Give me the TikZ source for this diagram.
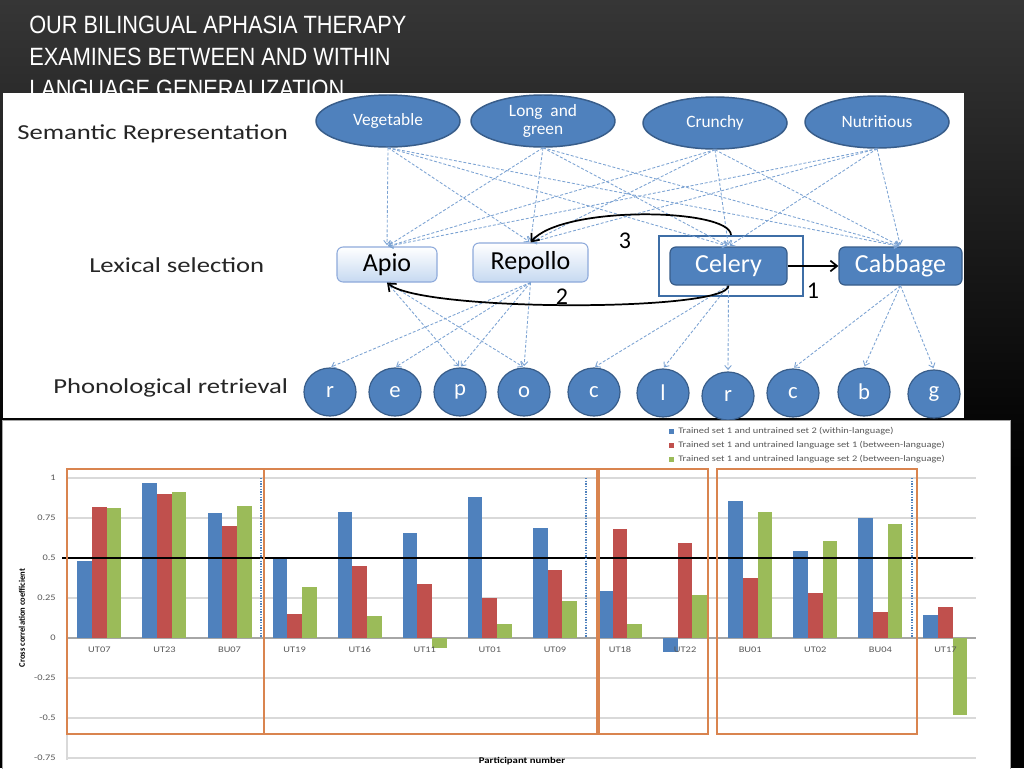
\documentclass[tikz,border=0pt]{standalone}
\usepackage{fontspec}
\setmainfont{Carlito}
\newfontfamily\titlefont[FakeStretch=0.87]{Liberation Sans}
\newfontfamily\lblfont[FakeStretch=1.25]{Carlito}
\newfontfamily\chfont[FakeStretch=1.22]{Carlito}
\usetikzlibrary{arrows.meta,shapes.geometric}
\definecolor{xblue}{HTML}{4F81BD}
\definecolor{xred}{HTML}{C0504D}
\definecolor{xgreen}{HTML}{9BBB59}
\definecolor{xborder}{HTML}{385D8A}
\definecolor{dashblue}{HTML}{7CA3D3}
\definecolor{lightbox}{HTML}{C6D9F1}
\definecolor{lightborder}{HTML}{8EAADB}
\definecolor{frameblue}{HTML}{3E6EA6}
\definecolor{orangeframe}{HTML}{D9844F}
\definecolor{gridgray}{HTML}{D9D9D9}
\definecolor{axgray}{HTML}{A6A6A6}
\definecolor{txtgray}{HTML}{595959}
\definecolor{bgtop}{HTML}{363636}
\tikzset{
  titlestyle/.style={font=\titlefont\fontsize{18.75pt}{20pt}\selectfont, text=white, inner sep=0pt, anchor=base west},
  lbl/.style={font=\lblfont\fontsize{16pt}{18pt}\selectfont, text=black!85, inner sep=0pt, anchor=base west},
  sem/.style={ellipse, fill=xblue, draw=xborder, line width=1.1pt, text=white, align=center,
    font=\fontsize{13pt}{13.5pt}\selectfont, minimum width=108pt, minimum height=39pt, inner sep=0pt},
  lexl/.style={rectangle, rounded corners=4.5pt, draw=lightborder, line width=0.8pt, top color=white,
    bottom color=lightbox, text=black, font=\fontsize{19.5pt}{20pt}\selectfont, inner sep=0pt},
  lexd/.style={rectangle, rounded corners=4.5pt, draw=xborder, line width=0.9pt, fill=xblue,
    text=white, font=\fontsize{19.5pt}{20pt}\selectfont, inner sep=0pt},
  pho/.style={ellipse, fill=xblue, draw=xborder, line width=0.9pt, text=white,
    font=\fontsize{17pt}{17pt}\selectfont, minimum width=39pt, minimum height=36pt, inner sep=0pt},
  dl/.style={draw=dashblue, line width=0.65pt, dash pattern=on 2.2pt off 1.4pt,
    -{Straight Barb[length=3pt,width=5pt]}, shorten >=1pt},
  blk/.style={draw=black, line width=1.3pt, -{Straight Barb[length=5pt,width=8pt]}},
  num/.style={font=\fontsize{18pt}{19pt}\selectfont, text=black, inner sep=0pt},
  ch/.style={font=\chfont\fontsize{6.4pt}{7pt}\selectfont, text=txtgray, inner sep=0pt},
  grid/.style={draw=gridgray, line width=0.8pt},
  frm/.style={draw=orangeframe, line width=0.9pt},
  dotl/.style={draw=xblue, line width=0.9pt, dash pattern=on 1pt off 1pt}
}
\begin{document}
\begin{tikzpicture}[x=0.75pt, y=-0.75pt]
\useasboundingbox (0,0) rectangle (1024,768);
% background
\fill[black] (0,0) rectangle (1024,768);
\shade[top color=bgtop, bottom color=black] (0,0) rectangle (1024,470);
% title
\node[titlestyle] (t1) at (29,33) {OUR BILINGUAL APHASIA THERAPY};
\node[titlestyle] (t2) at (29,65) {EXAMINES BETWEEN AND WITHIN};
\node[titlestyle] (t3) at (29,97) {LANGUAGE GENERALIZATION};
% upper panel
\fill[white] (3,93) rectangle (964,418);
\node[lbl] (lsem) at (17,139) {Semantic Representation};
\node[lbl] (llex) at (89,272) {Lexical selection};
\node[lbl] (lpho) at (53,393) {Phonological retrieval};
% semantic ovals
\node[sem] (veg) at (388,121) {Vegetable};
\node[sem] (lag) at (543,121) {Long~~and\\green};
\node[sem] (cru) at (715,123) {Crunchy};
\node[sem] (nut) at (877,122) {Nutritious};
% lexical
\node[lexl, minimum width=75pt, minimum height=26.25pt] (apio) at (387,264.5) {Apio};
\node[lexl, minimum width=86.25pt, minimum height=29.25pt] (repollo) at (530.5,262.5) {Repollo};
\node[draw=frameblue, line width=1.5pt, minimum width=108pt, minimum height=45pt, inner sep=0pt] (celframe) at (731,266) {};
\node[lexd, minimum width=87.75pt, minimum height=28.5pt] (celery) at (728.5,266) {Celery};
\node[lexd, minimum width=92.25pt, minimum height=28.5pt] (cabbage) at (900.5,266) {Cabbage};
% phonological
\node[pho] (r1) at (330,392) {r};
\node[pho] (e) at (395,392) {e};
\node[pho] (p) at (460,392) {p};
\node[pho] (o) at (524,392) {o};
\node[pho] (c1) at (594,392) {c};
\node[pho] (l) at (663,393) {l};
\node[pho] (r2) at (728,396) {r};
\node[pho] (c2) at (793,393) {c};
\node[pho] (b) at (864,392) {b};
\node[pho] (g) at (934,394) {g};
% dashed connectors
\foreach \s in {veg,lag,cru,nut}
  \foreach \t in {apio,repollo,celery,cabbage}
    \draw[dl] (\s.south) -- (\t.north);
\foreach \t in {p,o} \draw[dl] (apio.south) -- (\t.north);
\foreach \t in {r1,e,p,o} \draw[dl] (repollo.south) -- (\t.north);
\foreach \t in {c1,l,r2} \draw[dl] (celery.south) -- (\t.north);
\foreach \t in {c2,b,g} \draw[dl] (cabbage.south) -- (\t.north);
% black arrows
\draw[blk] (celery.east) -- (cabbage.west);
\draw[blk] (celframe.north) .. controls (730,208) and (562,205) .. (repollo.north);
\draw[blk] (celery.south) .. controls (729,312) and (420,312) .. (apio.south);
\node[num] (n1) at (813,291) {1};
\node[num] (n2) at (562,297) {2};
\node[num] (n3) at (625,241) {3};
% lower panel
\draw[fill=white, draw=axgray] (2,420) rectangle (1010,775);
\foreach \v in {1,0.75,0.5,0.25,-0.25,-0.5,-0.75}
  \draw[grid] (67,{638-160*\v}) -- (976,{638-160*\v});
\draw[grid] (67,478) -- (67,760);
\draw[draw=axgray, line width=0.8pt] (67,638) -- (976,638);
\foreach \v/\t in {1/1,0.75/0.75,0.5/0.5,0.25/0.25,0/0,-0.25/-0.25,-0.5/-0.5,-0.75/-0.75}
  \node[ch, anchor=east] (tick\t) at (56,{638-160*\v}) {\t};
% bars
\foreach \i/\a/\b/\c in {0/0.483/0.819/0.815, 1/0.967/0.902/0.913, 2/0.781/0.698/0.823,
  3/0.508/0.148/0.321, 4/0.788/0.448/0.138, 5/0.656/0.338/-0.065, 6/0.883/0.248/0.088,
  7/0.686/0.425/0.23, 8/0.296/0.68/0.085, 9/-0.085/0.595/0.27, 10/0.856/0.373/0.788,
  11/0.546/0.283/0.608, 12/0.748/0.165/0.715, 13/0.144/0.196/-0.48}{
  \pgfmathsetmacro\cx{99.4+65.08*\i}
  \fill[xblue] ({\cx-22},638) rectangle ({\cx-7.4},{638-160*\a});
  \fill[xred] ({\cx-7.4},638) rectangle ({\cx+7.3},{638-160*\b});
  \fill[xgreen] ({\cx+7.3},638) rectangle ({\cx+22},{638-160*\c});
}
\foreach \i/\n in {0/UT07,1/UT23,2/BU07,3/UT19,4/UT16,5/UT11,6/UT01,7/UT09,8/UT18,9/UT22,10/BU01,11/UT02,12/BU04,13/UT17}{
  \pgfmathsetmacro\cx{99.4+65.08*\i}
  \node[ch] (cat\i) at (\cx,650) {\n};
}
\draw[black, line width=0.8pt] (62,558) -- (973,558);
% frames and dotted separators
\draw[frm] (67,469) rectangle (264,734);
\draw[frm] (264,469) rectangle (597,734);
\draw[frm] (599,469) rectangle (708,734);
\draw[frm] (717,469) rectangle (917,734);
\draw[dotl] (261,478) -- (261,638);
\draw[dotl] (586,478) -- (586,638);
\draw[dotl] (912,478) -- (912,638);
% legend
\fill[xblue] (669,428.5) rectangle (674,433.5);
\fill[xred] (669,442.5) rectangle (674,447.5);
\fill[xgreen] (669,457) rectangle (674,462);
\node[ch, anchor=west] (leg1) at (678,431) {Trained set 1 and untrained set 2 (within-language)};
\node[ch, anchor=west] (leg2) at (678,445) {Trained set 1 and untrained language set 1 (between-language)};
\node[ch, anchor=west] (leg3) at (678,459.5) {Trained set 1 and untrained language set 2 (between-language)};
% axis titles
\node[rotate=90, font=\bfseries\fontsize{6.4pt}{7pt}\selectfont, text=black, inner sep=0pt] (ytitle) at (22,618) {Cross correlation coefficient};
\node[anchor=north, font=\chfont\bfseries\fontsize{6.6pt}{7pt}\selectfont, text=black, inner sep=0pt] (xtitle) at (522,757) {Participant number};
\end{tikzpicture}
\end{document}
